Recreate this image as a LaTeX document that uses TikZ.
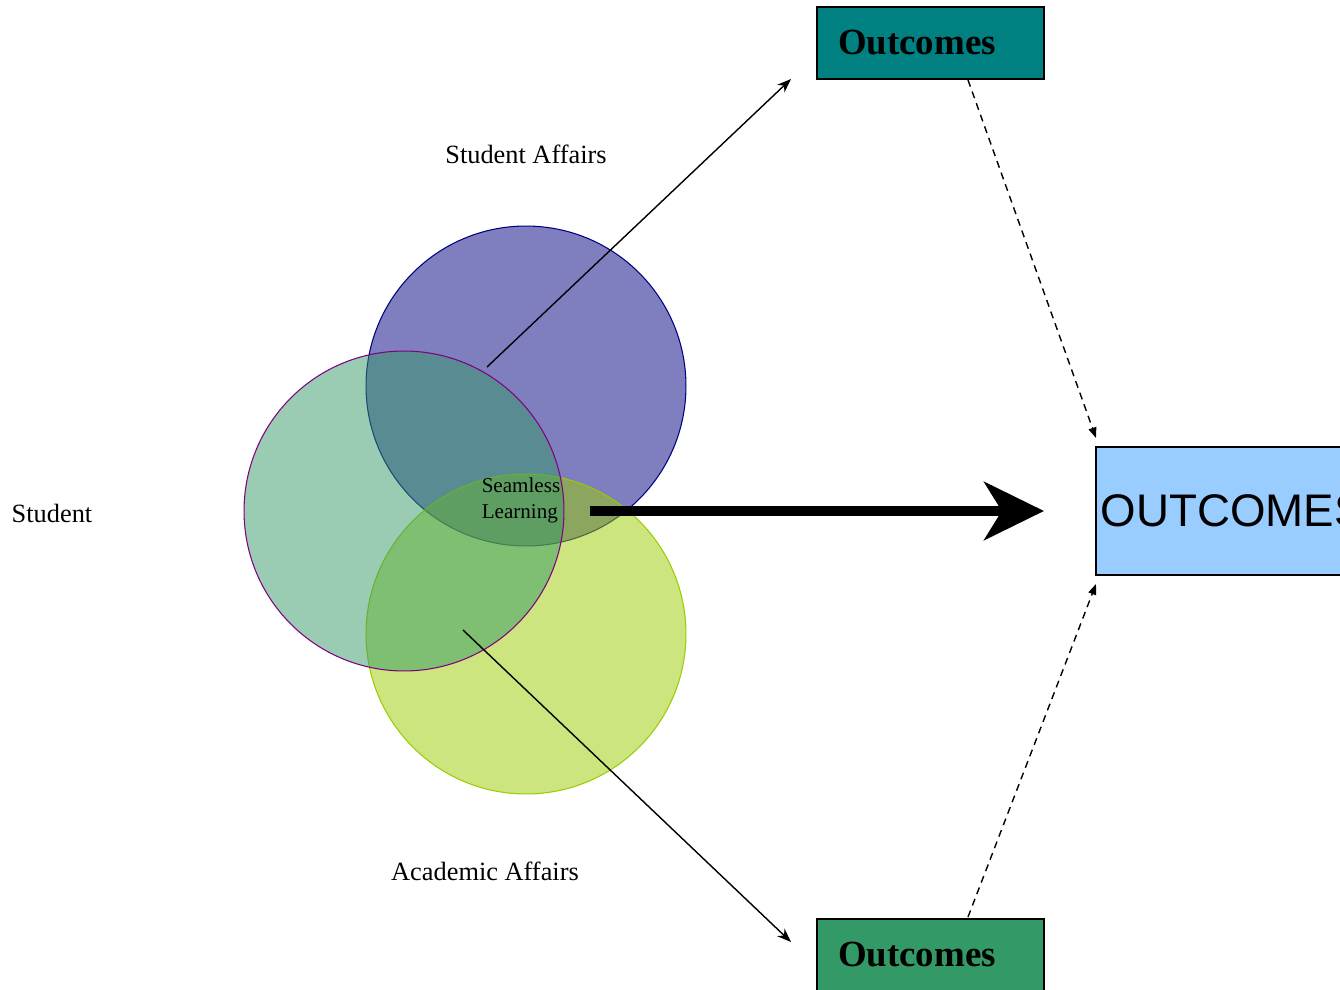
\documentclass[tikz,border=0pt]{standalone}
\usepackage{fontspec}
\setmainfont{Liberation Serif}
\newfontfamily\capsfont{Liberation Sans}
\usetikzlibrary{arrows.meta}
\tikzset{>=Stealth}
\definecolor{sacol}{RGB}{0,0,128}
\definecolor{stcol}{RGB}{51,153,102}
\definecolor{aacol}{RGB}{153,204,0}
\definecolor{plum}{RGB}{128,0,128}
\definecolor{topcol}{RGB}{0,128,128}
\definecolor{skycol}{RGB}{153,204,255}
\tikzset{sphere/.style = {shape=circle,minimum size=6.4cm,inner sep=0pt,fill opacity=0.5,line width=0.6pt}}
\tikzset{outbox/.style = {shape=rectangle,draw,line width=1pt,text width=3.7cm,inner xsep=0.42cm,minimum height=1.44cm,align=left,font=\fontsize{21}{24}\selectfont\bfseries}}
\tikzset{areatext/.style = {font=\fontsize{15}{18}\selectfont}}
\tikzset{feed/.style = {-{Stealth[length=8pt,width=6pt]},line width=0.8pt}}
\tikzset{back/.style = {-{Triangle[length=6pt,width=4.5pt]},line width=0.8pt,dash pattern=on 4pt off 3pt}}

\begin{document}
\begin{tikzpicture}[x=0.02cm,y=-0.02cm]
                    \useasboundingbox (0,0) rectangle (1340,990);

                    \node[sphere,draw=sacol,fill=sacol] (SA) at (526,386) {};
                    \node[sphere,draw=aacol,fill=aacol] (AA) at (526,634) {};
                    \node[sphere,draw=plum,fill=stcol] (ST) at (404,511) {};

                    \node[areatext] (satext) at (526,154) {Student Affairs};
                    \node[areatext] (sttext) at (52,513) {Student};
                    \node[areatext] (aatext) at (485,871) {Academic Affairs};
                    \node[font=\fontsize{12}{14.8}\selectfont,align=left] (seam) at (521,500) {Seamless\\Learning};

                    \node[outbox,fill=topcol] (top) at (930.5,43) {Outcomes};
                    \node[outbox,fill=stcol] (bottom) at (930.5,955) {Outcomes};
                    \node[draw,line width=1pt,fill=skycol,anchor=west,text width=5.4cm,inner xsep=0.1cm,minimum height=2.56cm,align=left,font=\capsfont\fontsize{26}{30}\selectfont] (result) at (1095,511) {OUTCOMES};

                    \coordinate (safrom) at (487,367);
                    \coordinate (sato) at (791,79);
                    \coordinate (aafrom) at (463,630);
                    \coordinate (aato) at (791,942);
                    \coordinate (flowfrom) at (590,511);
                    \coordinate (flowto) at (1044,511);
                    \coordinate (topfoot) at (968,80);
                    \coordinate (bottomhead) at (968,917);
                    \coordinate (resup) at (1096,438);
                    \coordinate (resdown) at (1096,584);

                    \draw[feed] (safrom) -- (sato);
                    \draw[feed] (aafrom) -- (aato);
                    \draw[line width=5.7pt,-{Stealth[length=34pt,width=33pt,inset=10pt]}] (flowfrom) -- (flowto);
                    \draw[back] (topfoot) -- (resup);
                    \draw[back] (bottomhead) -- (resdown);
                \end{tikzpicture}
\end{document}
